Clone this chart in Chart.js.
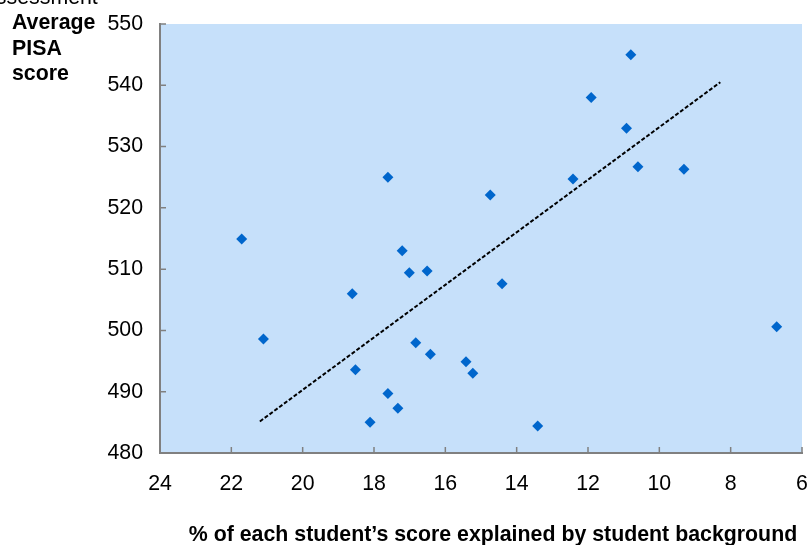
<!DOCTYPE html>
<html>
<head>
    <title>PISA score vs background</title>
    <style>
        body { margin: 0; background: #fff; }
        #wrap { width: 808px; height: 545px; }
    </style>
</head>
<body>
    <div id="wrap">
        <canvas id="myChart" width="808" height="545"></canvas>
    </div>

    <script src="https://cdn.jsdelivr.net/npm/chart.js"></script>

    <script>
        // % of score explained by background (x) and average PISA score (y)
        const background = [21.71, 21.10, 18.61, 18.52, 18.11, 17.61, 17.61, 17.33, 17.21, 17.01,
                            16.83, 16.51, 16.42, 15.42, 15.23, 14.74, 14.41, 13.41, 12.42, 11.91,
                            10.92, 10.80, 10.60, 9.31, 6.71]
        const scores = [514.9, 498.6, 506.0, 493.6, 485.0, 525.0, 489.7, 487.3, 513.0, 509.4,
                        498.0, 509.7, 496.1, 494.9, 493.0, 522.1, 507.6, 484.4, 524.7, 538.0,
                        533.0, 545.0, 526.7, 526.3, 500.6]
        // trend line ends
        const trendX = [21.2, 8.29]
        const trendY = [485.15, 540.5]

        const xTitle = '% of each student\u2019s score explained by student background'
        const yTitle = ['Average', 'PISA', 'score']

        const FONT = '"Liberation Sans", Arial, sans-serif'
        const FS = 21.33

        const points = background.map((v, i) => ({x: v, y: scores[i]}))
        const trend = trendX.map((v, i) => ({x: v, y: trendY[i]}))

        // light blue plot area
        const plotBg = {
            id: 'plotBg',
            beforeDraw(chart) {
                const {ctx, chartArea: a} = chart
                ctx.save()
                ctx.fillStyle = '#c6e0fa'
                ctx.fillRect(a.left, a.top, a.right - a.left, a.bottom - a.top)
                ctx.restore()
            }
        }

        // short tick marks pointing into the plot
        const innerTicks = {
            id: 'innerTicks',
            beforeDatasetsDraw(chart) {
                const {ctx, chartArea: a, scales} = chart
                ctx.save()
                ctx.strokeStyle = '#808080'
                ctx.lineWidth = 1.5
                ctx.beginPath()
                scales.x.ticks.forEach(t => {
                    const px = scales.x.getPixelForValue(t.value)
                    ctx.moveTo(px, a.bottom)
                    ctx.lineTo(px, a.bottom - 6)
                })
                scales.y.ticks.forEach(t => {
                    const py = scales.y.getPixelForValue(t.value)
                    ctx.moveTo(a.left, py)
                    ctx.lineTo(a.left + 6, py)
                })
                ctx.stroke()
                ctx.restore()
            }
        }

        const texts = {
            id: 'texts',
            afterDraw(chart) {
                const {ctx} = chart
                ctx.save()
                ctx.fillStyle = '#000'
                ctx.textBaseline = 'alphabetic'
                ctx.textAlign = 'left'
                ctx.font = FS + 'px ' + FONT
                ctx.fillText('assessment', -16, 4)
                ctx.font = 'bold ' + FS + 'px ' + FONT
                yTitle.forEach((s, i) => ctx.fillText(s, 12, 29 + i * 25.5))
                ctx.textAlign = 'center'
                ctx.fillText(xTitle, 493, 541)
                ctx.restore()
            }
        }

        const ctx = document.getElementById('myChart')
        new Chart(ctx, {
            type: 'scatter',
            data: {
                datasets: [{
                    label: 'Countries',
                    data: points,
                    pointStyle: 'rectRot',
                    pointRadius: 5.5,
                    pointBorderWidth: 0,
                    backgroundColor: '#0066cc',
                    borderColor: '#0066cc'
                }, {
                    label: 'Trend',
                    type: 'line',
                    data: trend,
                    borderColor: '#000',
                    borderWidth: 2,
                    borderDash: [4, 2],
                    pointRadius: 0,
                    fill: false
                }]
            },
            options: {
                responsive: false,
                animation: false,
                layout: { padding: { left: 100, top: 24, right: 6, bottom: 0 } },
                plugins: {
                    legend: { display: false },
                    tooltip: { enabled: false }
                },
                scales: {
                    x: {
                        type: 'linear',
                        reverse: true,
                        min: 6,
                        max: 24,
                        grid: { display: false, drawTicks: false },
                        border: { display: true, color: '#808080', width: 2 },
                        ticks: {
                            stepSize: 2,
                            padding: 18,
                            color: '#000',
                            font: { family: FONT, size: FS }
                        },
                        afterFit(scale) {
                            scale.height = 92
                            scale.paddingLeft = 0
                            scale.paddingRight = 0
                        }
                    },
                    y: {
                        min: 480,
                        max: 550,
                        grid: { display: false, drawTicks: false },
                        border: { display: true, color: '#808080', width: 2 },
                        ticks: {
                            stepSize: 10,
                            padding: 17,
                            color: '#000',
                            font: { family: FONT, size: FS }
                        },
                        afterFit(scale) {
                            scale.width = 60
                            scale.paddingTop = 0
                            scale.paddingBottom = 0
                        }
                    }
                }
            },
            plugins: [plotBg, innerTicks, texts]
        })
    </script>
</body>
</html>
